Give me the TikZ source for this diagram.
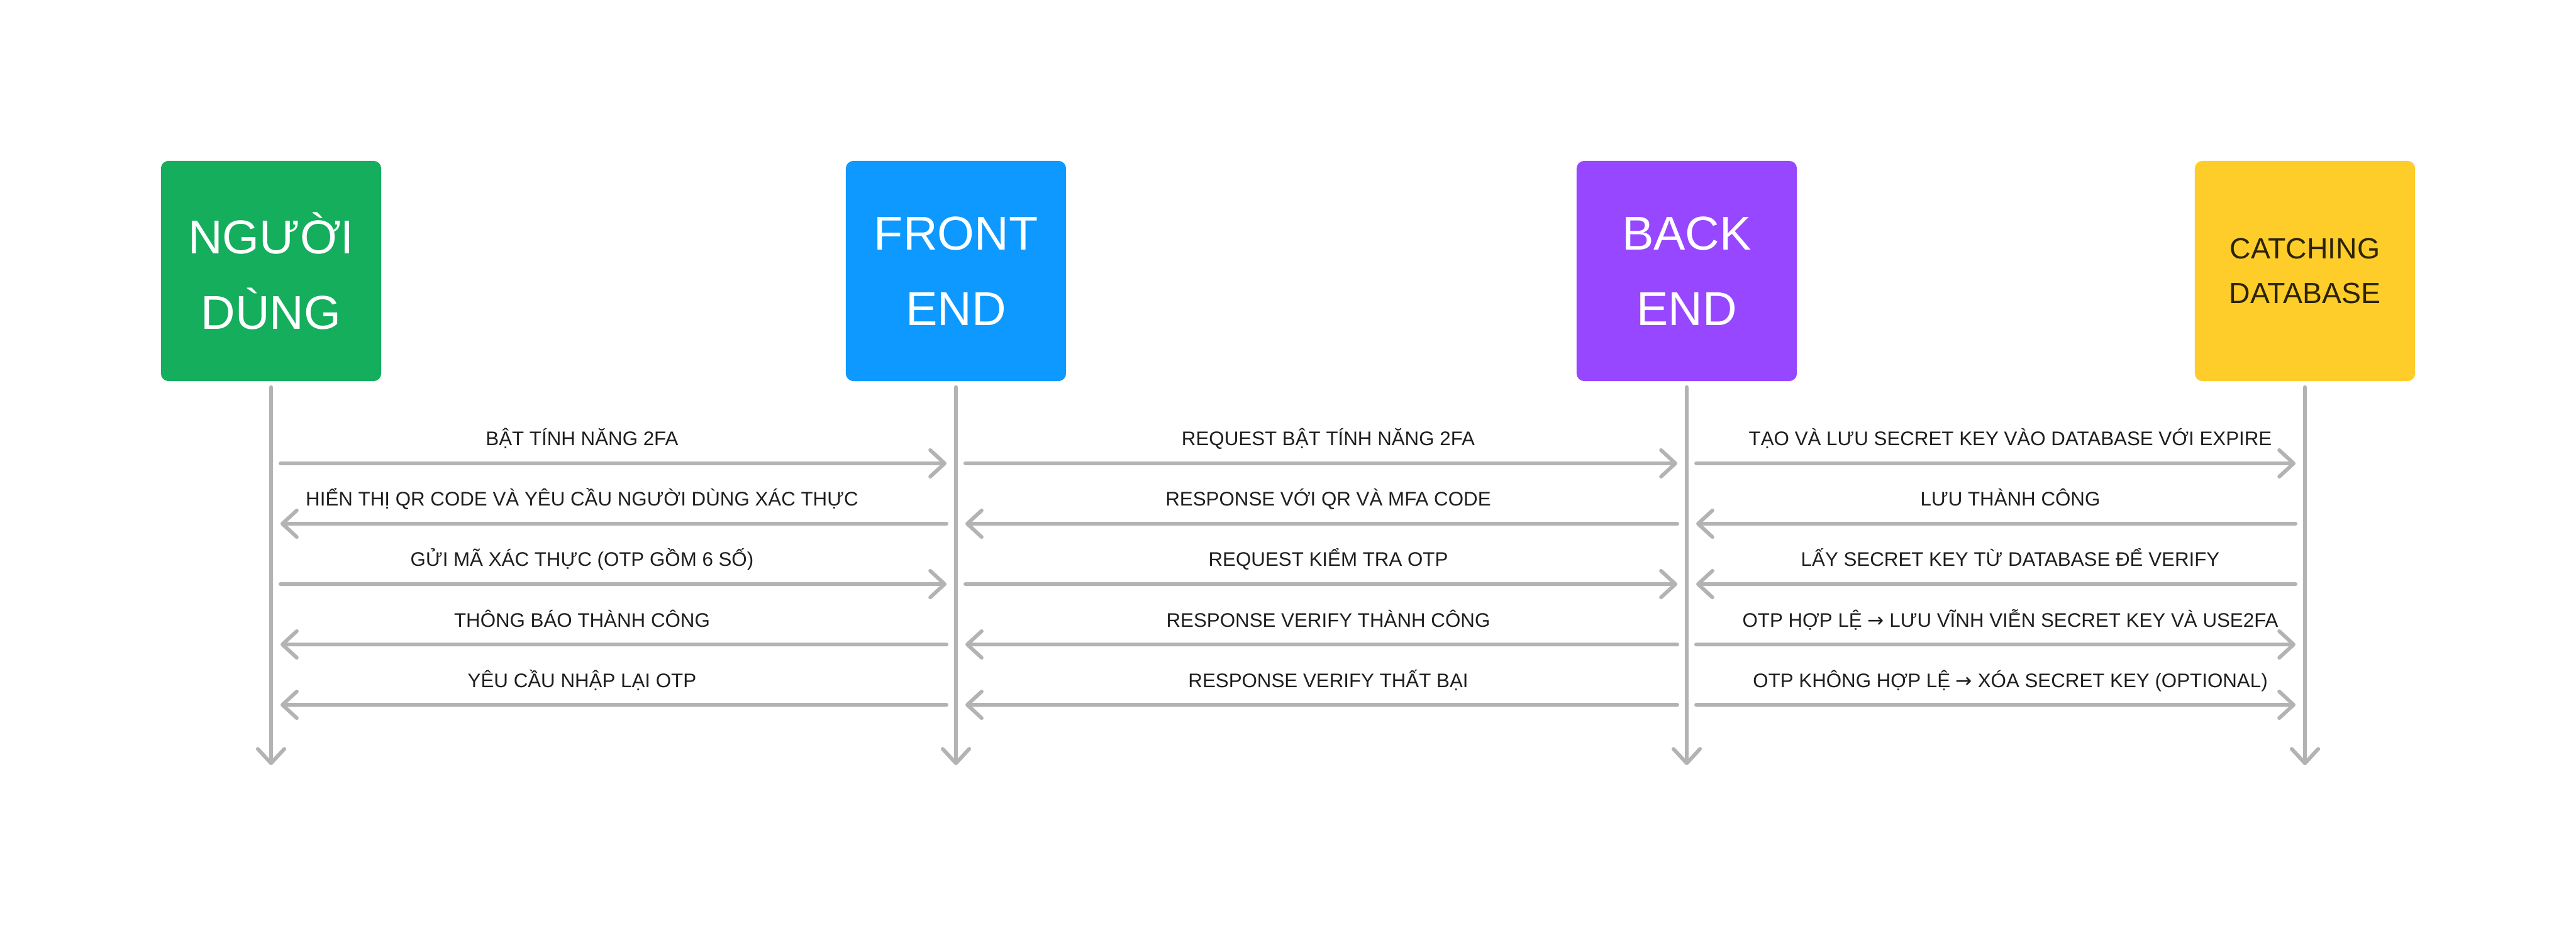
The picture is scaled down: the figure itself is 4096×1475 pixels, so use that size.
\documentclass[tikz,border=0pt]{standalone}
\usepackage{fontspec}
\setmainfont{Liberation Sans}
\newfontfamily\arrowfont{DejaVu Sans}
\usetikzlibrary{arrows.meta}

\definecolor{usergreen}{HTML}{14AE5C}
\definecolor{feblue}{HTML}{0D99FF}
\definecolor{bepurple}{HTML}{9747FF}
\definecolor{dbyellow}{HTML}{FFCD29}
\definecolor{linegray}{HTML}{B3B3B3}
\definecolor{textdark}{HTML}{1E1E1E}
\definecolor{dbtext}{HTML}{2B2405}

\newcommand{\toarrow}{{\arrowfont →}}

\tikzset{
  actor/.style={rectangle, rounded corners=0.12cm, minimum width=3.5cm, minimum height=3.5cm,
    inner sep=0pt, align=center, text=white, font=\fontsize{21.5}{34}\selectfont},
  life/.style={draw=linegray, line width=1.7pt, line cap=round,
    -{Straight Barb[length=6.5pt,width=12pt,line cap=round,line join=round]}},
  msg/.style={life, shorten <=0.15cm, shorten >=0.15cm},
  lbl/.style={midway, anchor=base, yshift=0.28cm, inner sep=0pt,
    font=\fontsize{8.9}{11}\selectfont, text=textdark},
}

\begin{document}
\begin{tikzpicture}[x=0.01cm, y=-0.01cm]
\fill[white] (0,0) rectangle (4096,1475);
\useasboundingbox (0,0) rectangle (4096,1475);

% actors
\node[actor, fill=usergreen] (user) at (431,431) {NGƯỜI\\DÙNG};
\node[actor, fill=feblue] (front) at (1520,431) {FRONT\\END};
\node[actor, fill=bepurple] (back) at (2682,431) {BACK\\END};
\node[actor, fill=dbyellow, text=dbtext, font=\fontsize{13.2}{20.4}\selectfont] (db) at (3665,431) {CATCHING\\DATABASE};

% lifelines
\coordinate (userEnd) at (431,1217);
\coordinate (frontEnd) at (1520,1217);
\coordinate (backEnd) at (2682,1217);
\coordinate (dbEnd) at (3665,1217);
\draw[life] ([yshift=-0.09cm]user.south) -- (userEnd);
\draw[life] ([yshift=-0.09cm]front.south) -- (frontEnd);
\draw[life] ([yshift=-0.09cm]back.south) -- (backEnd);
\draw[life] ([yshift=-0.09cm]db.south) -- (dbEnd);

% message rows
\foreach \r/\y in {1/737, 2/833, 3/929, 4/1025, 5/1121}
  \coordinate (row\r) at (0,\y);

% user <-> front end
\draw[msg] (user |- row1) -- (front |- row1) node[lbl, xshift=-0.5cm] {BẬT TÍNH NĂNG 2FA};
\draw[msg] (front |- row2) -- (user |- row2) node[lbl, xshift=-0.5cm] {HIỂN THỊ QR CODE VÀ YÊU CẦU NGƯỜI DÙNG XÁC THỰC};
\draw[msg] (user |- row3) -- (front |- row3) node[lbl, xshift=-0.5cm] {GỬI MÃ XÁC THỰC (OTP GỒM 6 SỐ)};
\draw[msg] (front |- row4) -- (user |- row4) node[lbl, xshift=-0.5cm] {THÔNG BÁO THÀNH CÔNG};
\draw[msg] (front |- row5) -- (user |- row5) node[lbl, xshift=-0.5cm] {YÊU CẦU NHẬP LẠI OTP};

% front end <-> back end
\draw[msg] (front |- row1) -- (back |- row1) node[lbl, xshift=0.11cm] {REQUEST BẬT TÍNH NĂNG 2FA};
\draw[msg] (back |- row2) -- (front |- row2) node[lbl, xshift=0.11cm] {RESPONSE VỚI QR VÀ MFA CODE};
\draw[msg] (front |- row3) -- (back |- row3) node[lbl, xshift=0.11cm] {REQUEST KIỂM TRA OTP};
\draw[msg] (back |- row4) -- (front |- row4) node[lbl, xshift=0.11cm] {RESPONSE VERIFY THÀNH CÔNG};
\draw[msg] (back |- row5) -- (front |- row5) node[lbl, xshift=0.11cm] {RESPONSE VERIFY THẤT BẠI};

% back end <-> database
\draw[msg] (back |- row1) -- (db |- row1) node[lbl, xshift=0.23cm] {TẠO VÀ LƯU SECRET KEY VÀO DATABASE VỚI EXPIRE};
\draw[msg] (db |- row2) -- (back |- row2) node[lbl, xshift=0.23cm] {LƯU THÀNH CÔNG};
\draw[msg] (db |- row3) -- (back |- row3) node[lbl, xshift=0.23cm] {LẤY SECRET KEY TỪ DATABASE ĐỂ VERIFY};
\draw[msg] (back |- row4) -- (db |- row4) node[lbl, xshift=0.23cm] {OTP HỢP LỆ \toarrow{} LƯU VĨNH VIỄN SECRET KEY VÀ USE2FA};
\draw[msg] (back |- row5) -- (db |- row5) node[lbl, xshift=0.23cm] {OTP KHÔNG HỢP LỆ \toarrow{} XÓA SECRET KEY (OPTIONAL)};
\end{tikzpicture}
\end{document}
